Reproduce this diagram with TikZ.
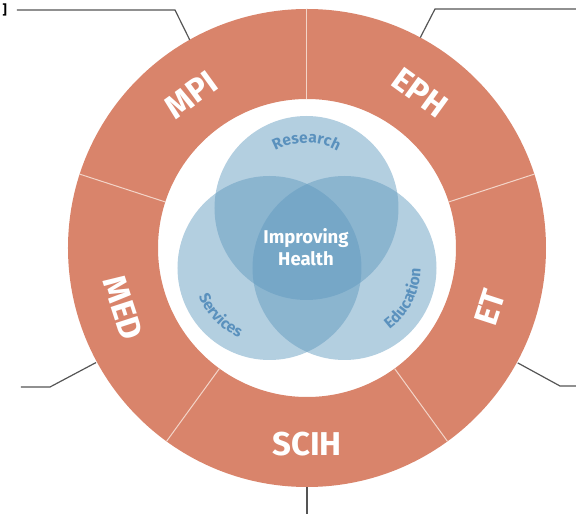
\documentclass[tikz,border=0pt]{standalone}
\usepackage{fontspec}
\setmainfont{Fira Sans}
\usetikzlibrary{decorations.text}
\definecolor{ring}{HTML}{D9846B}
\definecolor{ringline}{HTML}{F3D5C9}
\definecolor{venn}{HTML}{5E98BD}
\definecolor{venntext}{HTML}{5A91BD}
\definecolor{leader}{HTML}{555555}
\tikzset{
 unitlabel/.style={text=white, font=\bfseries\fontsize{33}{33}\selectfont},
 venncircle/.style={fill=venn, fill opacity=0.47},
 leaderline/.style={draw=leader, line width=1.2pt},
 arclabel/.style={decorate, decoration={text along path, text align=center,
 text color=venntext, text={|\bfseries\fontsize{15.5}{15.5}\selectfont|#1}}}
}
\begin{document}
\begin{tikzpicture}[x=1pt,y=1pt]
 \useasboundingbox (-307,-266) rectangle (269,248);
 % ring of units
 \fill[ring, even odd rule] (0,0) circle (239) (0,0) circle (149);
 \foreach \a in {18,90,...,306}{
 \draw[ringline, line width=1pt] (\a:149) -- (\a:239);}
 \node[unitlabel, rotate=36] (mpi) at (127:192) {MPI};
 \node[unitlabel, rotate=-36] (eph) at (54:192) {EPH};
 \node[unitlabel, rotate=72] (et) at (-18:192) {ET};
 \node[unitlabel] (scih) at (270:196) {SCIH};
 \node[unitlabel, rotate=-72] (med) at (198:193) {MED};
 % venn
 \coordinate (research) at (-0.5,40);
 \coordinate (services) at (-37.5,-20);
 \coordinate (education) at (37.5,-20);
 \fill[venncircle] (research) circle (92);
 \fill[venncircle] (services) circle (92);
 \fill[venncircle] (education) circle (92);
 \path[arclabel=Research, shift={(research)}] (150:65) arc[start angle=150, end angle=30, radius=65];
 \path[arclabel=Services, shift={(services)}] (180:76) arc[start angle=180, end angle=268, radius=76];
 \path[arclabel=Education, shift={(education)}] (-72:76) arc[start angle=-72, end angle=18, radius=76];
 \node[text=white, font=\bfseries\fontsize{18.5}{21.5}\selectfont, align=center] (health) at (-1,1) {Improving\\Health};
 % leader lines
 \coordinate (tl) at (119.4:239);
 \coordinate (tlend) at (-290,238);
 \coordinate (tr) at (61.7:239);
 \coordinate (trend) at (275,239);
 \coordinate (ml) at (208.5:240);
 \coordinate (mlend) at (-286,-139);
 \coordinate (mr) at (-28.6:240);
 \coordinate (mrend) at (275,-138);
 \coordinate (bm) at (270:239);
 \coordinate (bmend) at (0,-270);
 \draw[leaderline] (tl) -- (-132,238) -- (tlend);
 \draw[leaderline] (tr) -- (128,239) -- (trend);
 \draw[leaderline] (ml) -- (-257,-139) -- (mlend);
 \draw[leaderline] (mr) -- (253,-138) -- (mrend);
 \draw[leaderline] (bm) -- (bmend);
 \node[font=\bfseries\fontsize{13}{13}\selectfont, anchor=east, inner sep=0pt] (cut) at (-300,238) {]};
\end{tikzpicture}
\end{document}
